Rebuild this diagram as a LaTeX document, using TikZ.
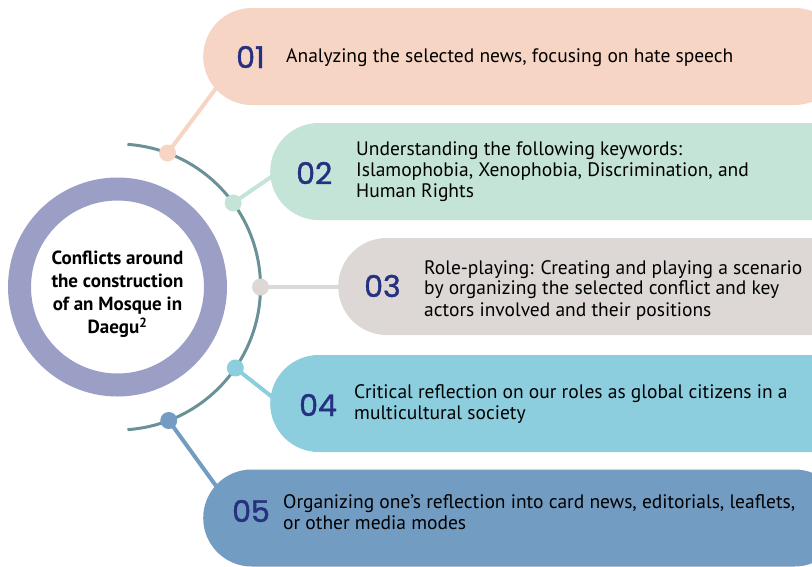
\documentclass[tikz,border=0pt]{standalone}
\usepackage{fontspec}
\setmainfont{PT Sans}
\newfontfamily\numfont[FakeBold=1.3]{Poppins}
\usetikzlibrary{calc,backgrounds}
\definecolor{peach}{RGB}{247,213,196}
\definecolor{mint}{RGB}{195,228,214}
\definecolor{stone}{RGB}{221,216,213}
\definecolor{aqua}{RGB}{140,206,222}
\definecolor{steel}{RGB}{115,156,194}
\definecolor{ringc}{RGB}{155,159,198}
\definecolor{arcc}{RGB}{106,145,151}
\definecolor{navy}{RGB}{38,48,128}
\begin{document}
\begin{tikzpicture}[x=1pt,y=1pt,
  pill/.style={rectangle, inner sep=0pt, minimum width=640pt, minimum height=97pt, rounded corners=48.5pt, anchor=west},
  num/.style={font=\numfont\fontsize{30}{30}\selectfont, text=navy, anchor=west, inner sep=0pt},
  txt/.style={font=\fontsize{19.5}{21}\selectfont, anchor=west, align=left, inner sep=0pt},
  dot/.style={circle, inner sep=0pt, minimum size=17pt},
  link/.style={line width=4pt},
  arcline/.style={draw=arcc, line width=3pt}]
\useasboundingbox (0,0) rectangle (812,-566);
\clip (0,0) rectangle (812,-566);
% pills
\node[pill, fill=peach] (p1) at (203,-56.5) {};
\node[pill, fill=mint]  (p2) at (270,-171.5) {};
\node[pill, fill=stone] (p3) at (338,-286.5) {};
\node[pill, fill=aqua]  (p4) at (270,-403.5) {};
\node[pill, fill=steel] (p5) at (203,-518) {};
% ring and title
\node[circle, draw=ringc, line width=23pt, minimum size=196pt, inner sep=0pt] (ring) at (117.5,-287) {};
\node[font=\bfseries\fontsize{19}{23}\selectfont, align=center] (title) at (117.5,-294)
  {Conflicts around\\the construction\\of an Mosque in\\Daegu\textsuperscript{2}};
% arc
\draw[arcline] ($(ring.center)+(86:143)$) arc[start angle=86, end angle=-86, radius=143];
% dots
\node[dot, fill=peach] (d1) at ($(ring.center)+(69.5:143)$) {};
\node[dot, fill=mint]  (d2) at ($(ring.center)+(36:143)$) {};
\node[dot, fill=stone] (d3) at ($(ring.center)+(0:143)$) {};
\node[dot, fill=aqua]  (d4) at ($(ring.center)+(-34.5:143)$) {};
\node[dot, fill=steel] (d5) at ($(ring.center)+(-69:143)$) {};
% connector ends (hidden under the pills)
\coordinate (c1) at (232,-67);
\coordinate (c2) at (290,-164);
\coordinate (c3) at (350,-287);
\coordinate (c4) at (290,-411);
\coordinate (c5) at (232,-508);
\begin{scope}[on background layer]
\draw[link, peach] (d1.center) -- (c1);
\draw[link, mint]  (d2.center) -- (c2);
\draw[link, stone] (d3.center) -- (c3);
\draw[link, aqua]  (d4.center) -- (c4);
\draw[link, steel] (d5.center) -- (c5);
\end{scope}
% numbers
\node[num] (n1) at (236,-57) {01};
\node[num] (n2) at (296,-173) {02};
\node[num] (n3) at (364,-286) {03};
\node[num] (n4) at (299,-405) {04};
\node[num] (n5) at (232,-511) {05};
% texts
\node[txt] (t1) at (286,-58) {Analyzing the selected news, focusing on hate speech};
\node[txt] (t2) at (356,-172) {Understanding the following keywords:\\Islamophobia, Xenophobia, Discrimination, and\\Human Rights};
\node[txt] (t3) at (424,-290) {Role-playing: Creating and playing a scenario\\by organizing the selected conflict and key\\actors involved and their positions};
\node[txt] (t4) at (354,-404) {Critical reflection on our roles as global citizens in a\\multicultural society};
\node[txt] (t5) at (283,-512) {Organizing one's reflection into card news, editorials, leaflets,\\or other media modes};
\end{tikzpicture}
\end{document}
